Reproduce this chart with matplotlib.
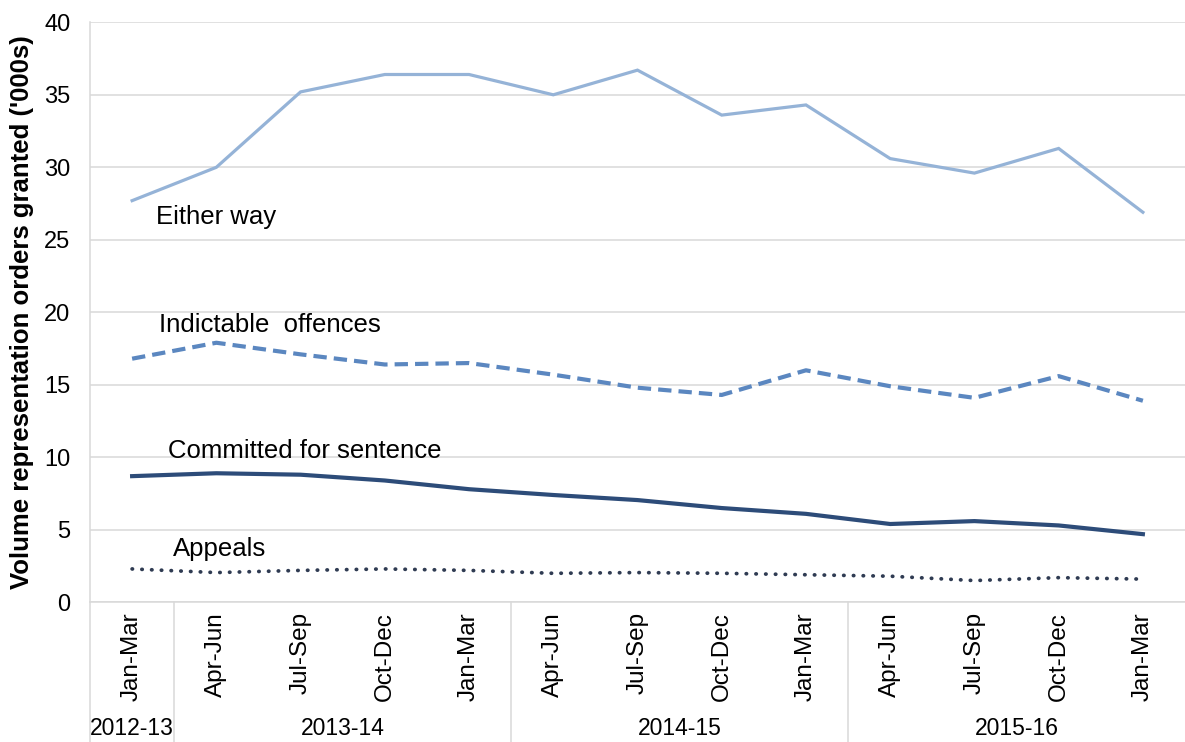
import matplotlib.pyplot as plt
from matplotlib.transforms import blended_transform_factory

plt.rcParams['font.family'] = ['Liberation Sans', 'DejaVu Sans']

# quarters and financial years
quarters = ['Jan-Mar', 'Apr-Jun', 'Jul-Sep', 'Oct-Dec', 'Jan-Mar',
            'Apr-Jun', 'Jul-Sep', 'Oct-Dec', 'Jan-Mar',
            'Apr-Jun', 'Jul-Sep', 'Oct-Dec', 'Jan-Mar']
years = ['2012-13', '2013-14', '2014-15', '2015-16']
year_sizes = [1, 4, 4, 4]

# volumes ('000s)
either_way = [27.7, 30.0, 35.2, 36.4, 36.4, 35.0, 36.7, 33.6, 34.3, 30.6, 29.6, 31.3, 26.9]
indictable = [16.8, 17.9, 17.1, 16.4, 16.5, 15.7, 14.8, 14.3, 16.0, 14.9, 14.1, 15.6, 13.9]
committed = [8.7, 8.9, 8.8, 8.4, 7.8, 7.4, 7.05, 6.5, 6.1, 5.4, 5.6, 5.3, 4.7]
appeals = [2.3, 2.05, 2.2, 2.3, 2.2, 2.0, 2.05, 2.0, 1.9, 1.8, 1.5, 1.7, 1.6]

W, H = 1185, 742
fig = plt.figure(figsize=(W / 100, H / 100), dpi=100)
ax = fig.add_axes([90 / W, 1 - 602.3 / H, 1 - 90 / W, (602.3 - 22.3) / H])

x = list(range(len(quarters)))
ax.plot(x, either_way, color='#95B3D7', lw=2.3, solid_joinstyle='miter')
ax.plot(x, indictable, color='#5B87C0', lw=3.0, dashes=(3.2, 1.7))
ax.plot(x, committed, color='#2D4C79', lw=3.0)
ax.plot(x, appeals, color='#2F3B52', lw=2.7, dashes=(0.1, 2.5),
        dash_capstyle='round')

# series names
ax.text(0.28, 26.55, 'Either way', fontsize=18.5, va='center')
ax.text(0.32, 19.15, 'Indictable  offences', fontsize=18.5, va='center')
ax.text(0.43, 10.4, 'Committed for sentence', fontsize=18.5, va='center')
ax.text(0.48, 3.65, 'Appeals', fontsize=18.5, va='center')

ax.set_xlim(-0.5, len(quarters) - 0.5)
ax.set_ylim(0, 40)
ax.set_yticks(range(0, 41, 5))
ax.grid(axis='y', color='#D9D9D9', lw=1.1)
ax.set_axisbelow(True)
for s in ['top', 'right']:
    ax.spines[s].set_visible(False)
for s in ['left', 'bottom']:
    ax.spines[s].set_color('#D9D9D9')
    ax.spines[s].set_linewidth(1.1)
ax.tick_params(axis='y', length=0, pad=14, labelsize=17)
ax.set_xticks(x)
ax.set_xticklabels(quarters, rotation=90, fontsize=17.5, va='top')
ax.tick_params(axis='x', length=0, pad=7)

ax.set_ylabel("Volume representation orders granted ('000s)",
              fontsize=18.5, fontweight='bold')
ax.yaxis.set_label_coords(-0.051, 0.5)

# year bands below the quarter labels
trans = blended_transform_factory(ax.transData, ax.transAxes)
bottom = -(H - 602.3) / (602.3 - 22.3)
start = -0.5
for name, n in zip(years, year_sizes):
    ax.plot([start, start], [0, bottom], transform=trans, color='#D9D9D9',
            lw=1.1, clip_on=False)
    ax.text(start + n / 2, bottom + 0.024, name, transform=trans,
            ha='center', va='center', fontsize=16.5)
    start += n

fig.savefig('out.png', dpi=100)
